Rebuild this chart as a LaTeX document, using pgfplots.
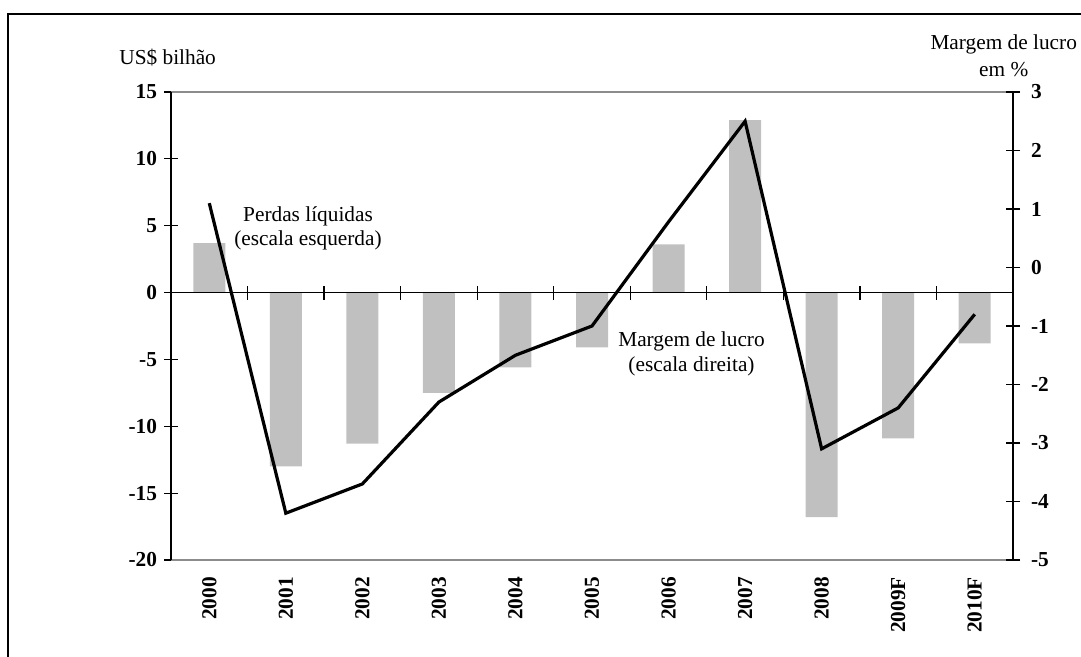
\documentclass[border=0pt]{standalone}
\usepackage{pgfplots}
\pgfplotsset{compat=1.18}
\usepackage{fontspec}
\setmainfont{Liberation Serif}
\definecolor{barg}{RGB}{192,192,192}
\definecolor{boxg}{RGB}{140,140,140}
\begin{document}
\begin{tikzpicture}
\useasboundingbox (0,0) rectangle (540.5bp,328.5bp);
\draw[line width=1bp] (4bp,0) -- (4bp,321.5bp) -- (540.5bp,321.5bp);
\pgfplotsset{every axis/.append style={scale only axis, width=421bp, height=234bp,
  at={(85.5bp,48.5bp)}, anchor=south west, xmin=-0.5, xmax=10.5,
  font=\fontsize{10.7}{12.5}\selectfont, clip=false,
  /pgf/number format/assume math mode=true,
  tick style={black, line width=0.6bp},
  yticklabel style={font=\bfseries\fontsize{10.7}{12}\selectfont},
  xticklabel style={font=\bfseries\fontsize{10.7}{12}\selectfont}}}
\begin{axis}[
  ymin=-20, ymax=15, ytick={-20,-15,...,15}, ytick pos=left,
  yticklabels={-20,-15,-10,-5,0,5,10,15},
  tick align=center, major tick length=7bp,
  separate axis lines,
  x axis line style={boxg, line width=0.6bp},
  y axis line style={black, line width=0.8bp},
  xtick={0,...,10}, xtick pos=bottom,
  xticklabels={2000,2001,2002,2003,2004,2005,2006,2007,2008,2009F,2010F},
  x tick label style={rotate=90, anchor=east},
  major x tick style={draw=none},
  xticklabel shift=-2bp,
  ybar, bar width=16bp,
]
\addplot[fill=barg, draw=none] coordinates {
(0,3.7) (1,-13.0) (2,-11.3) (3,-7.5) (4,-5.6) (5,-4.1)
(6,3.6) (7,12.9) (8,-16.8) (9,-10.9) (10,-3.8)};
\node[align=center, font=\fontsize{10.7}{12.5}\selectfont] at (axis cs:1.29,4.8) {Perdas líquidas\\(escala esquerda)};
\node[align=center, font=\fontsize{10.7}{12.5}\selectfont] at (axis cs:6.30,-4.56) {Margem de lucro\\(escala direita)};
\node[font=\fontsize{10.7}{12.5}\selectfont] at (rel axis cs:-0.004,1.073) {US\$ bilhão};
\node[align=center, font=\fontsize{10.7}{13.5}\selectfont] at (rel axis cs:0.989,1.078) {Margem de lucro\\em \%};
\end{axis}
\begin{axis}[
  ymin=-20, ymax=15, axis x line=middle, axis y line=none,
  axis line style={-, black, line width=0.8bp},
  xtick={0.5,1.5,...,9.5}, xticklabels={},
  tick align=center, major tick length=7bp,
]
\end{axis}
\begin{axis}[
  ymin=-5, ymax=3, axis y line*=right, axis x line=none,
  y axis line style={-, black, line width=0.8bp},
  ytick={-5,-4,...,3}, yticklabels={-5,-4,-3,-2,-1,0,1,2,3},
  yticklabel style={xshift=2bp},
  tick align=center, major tick length=7bp,
]
\addplot[black, line width=1.6bp] coordinates {
(0,1.1) (1,-4.2) (2,-3.7) (3,-2.3) (4,-1.5) (5,-1.0)
(6,0.78) (7,2.5) (8,-3.1) (9,-2.4) (10,-0.8)};
\end{axis}
\end{tikzpicture}
\end{document}
